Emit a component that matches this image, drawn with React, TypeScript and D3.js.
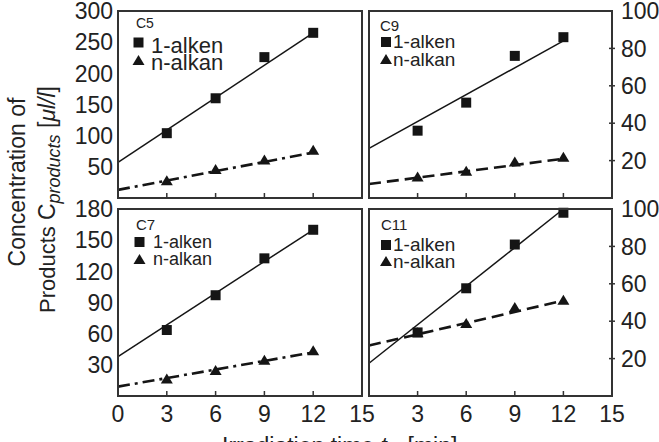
import React from 'react';
import * as d3 from 'd3';

// ---- data ----
const time = [3, 6, 9, 12];
const fitTime = [0, 12];

const c5Alken = [104, 160, 226, 265];
const c5Alkan = [27, 45, 60, 76];
const c5AlkenFit = [57, 265];
const c5AlkanFit = [13, 73];

const c9Alken = [36, 51, 76, 86];
const c9Alkan = [11, 14, 19, 21.5];
const c9AlkenFit = [26.5, 84];
const c9AlkanFit = [7.5, 21];

const c7Alken = [63.5, 97, 132.5, 160];
const c7Alkan = [16, 24, 34, 43];
const c7AlkenFit = [38, 160];
const c7AlkanFit = [9, 42];

const c11Alken = [34, 57.6, 81, 98];
const c11Alkan = [33.5, 38.5, 47, 51];
const c11AlkenFit = [17.5, 100];
const c11AlkanFit = [27, 51];

const xTicksLeft = [0, 3, 6, 9, 12, 15];
const xTicksRight = [3, 6, 9, 12, 15];
const xInnerTicks = [3, 6, 9, 12];
const yTicksC5 = [50, 100, 150, 200, 250, 300];
const yTicksC9 = [20, 40, 60, 80, 100];
const yTicksC7 = [30, 60, 90, 120, 150, 180];
const yTicksC11 = [20, 40, 60, 80, 100];

const seriesNames = ['1-alken', 'n-alkan'];

const W = 659;
const H = 442;
const TXT = '#222';
const FRAME = '#333';
const INK = '#151515';
const FONT = 'Liberation Sans, Arial, Helvetica, sans-serif';

type Panel = {
  name: string;
  x0: number; x1: number; y0: number; y1: number;
  yMax: number; yTicks: number[]; side: 'left' | 'right';
  alken: number[]; alkan: number[]; alkenFit: number[]; alkanFit: number[];
  dash: string; legSize: number; nameSize: number;
  leg: { nx: number; ny: number; sx: number; sy: number; tx: number; t1: number; ty: number; t2: number };
  xTicks: number[] | null;
};

const panels: Panel[] = [
  {
    name: 'C5', x0: 118, x1: 362, y0: 11, y1: 198, yMax: 300, yTicks: yTicksC5, side: 'left',
    alken: c5Alken, alkan: c5Alkan, alkenFit: c5AlkenFit, alkanFit: c5AlkanFit,
    dash: '12 5 3 5', legSize: 22, nameSize: 14,
    leg: { nx: 18, ny: 17, sx: 20.5, sy: 31.5, tx: 33, t1: 42, ty: 50, t2: 59 },
    xTicks: null,
  },
  {
    name: 'C9', x0: 369, x1: 612, y0: 11, y1: 198, yMax: 100, yTicks: yTicksC9, side: 'right',
    alken: c9Alken, alkan: c9Alkan, alkenFit: c9AlkenFit, alkanFit: c9AlkanFit,
    dash: '12 6', legSize: 19, nameSize: 15,
    leg: { nx: 11, ny: 20, sx: 17, sy: 31, tx: 24, t1: 37, ty: 49, t2: 55 },
    xTicks: null,
  },
  {
    name: 'C7', x0: 118, x1: 362, y0: 209, y1: 396, yMax: 180, yTicks: yTicksC7, side: 'left',
    alken: c7Alken, alkan: c7Alkan, alkenFit: c7AlkenFit, alkanFit: c7AlkanFit,
    dash: '12 5 3 5', legSize: 18, nameSize: 15,
    leg: { nx: 18, ny: 21, sx: 21.5, sy: 33, tx: 35, t1: 39, ty: 51, t2: 56 },
    xTicks: xTicksLeft,
  },
  {
    name: 'C11', x0: 369, x1: 612, y0: 209, y1: 396, yMax: 100, yTicks: yTicksC11, side: 'right',
    alken: c11Alken, alkan: c11Alkan, alkenFit: c11AlkenFit, alkanFit: c11AlkanFit,
    dash: '12 6', legSize: 19, nameSize: 15,
    leg: { nx: 12, ny: 21, sx: 17, sy: 36, tx: 24, t1: 42, ty: 53, t2: 59 },
    xTicks: xTicksRight,
  },
];

const sqPath = (s: number) => `M${-s / 2},${-s / 2}h${s}v${s}h${-s}Z`;
const triPath = (w: number, h: number) => `M0,${-h * 0.6}L${w / 2},${h * 0.4}L${-w / 2},${h * 0.4}Z`;

function PanelView({ p }: { p: Panel }) {
  const x = d3.scaleLinear().domain([0, 15]).range([p.x0, p.x1]);
  const y = d3.scaleLinear().domain([0, p.yMax]).range([p.y1, p.y0]);
  const line = d3.line<[number, number]>().x((d) => x(d[0])).y((d) => y(d[1]));
  const alkenFit = fitTime.map((t, i) => [t, p.alkenFit[i]] as [number, number]);
  const alkanFit = fitTime.map((t, i) => [t, p.alkanFit[i]] as [number, number]);
  const L = p.leg;
  return (
    <g>
      <path d={line(alkenFit) || ''} fill="none" stroke={INK} strokeWidth={1.5} />
      <path d={line(alkanFit) || ''} fill="none" stroke={INK} strokeWidth={2.6} strokeDasharray={p.dash} />
      {time.map((t, i) => (
        <path key={'a' + i} d={sqPath(10)} transform={`translate(${x(t)},${y(p.alken[i])})`} fill={INK} />
      ))}
      {time.map((t, i) => (
        <path key={'b' + i} d={triPath(12, 10)} transform={`translate(${x(t)},${y(p.alkan[i])})`} fill={INK} />
      ))}
      <rect x={p.x0} y={p.y0} width={p.x1 - p.x0} height={p.y1 - p.y0} fill="none" stroke={FRAME} strokeWidth={2} />
      {xInnerTicks.map((t) => (
        <line key={'xt' + t} x1={x(t)} x2={x(t)} y1={p.y1} y2={p.y1 - 5} stroke={FRAME} strokeWidth={1.5} />
      ))}
      {p.yTicks.map((v) =>
        p.side === 'left' ? (
          <text key={'yl' + v} x={p.x0 - 5} y={y(v)} dy="0.36em" textAnchor="end" fontSize={23} fill={TXT}>
            {v}
          </text>
        ) : (
          <g key={'yr' + v}>
            {v < p.yMax && (
              <line x1={p.x1 - 3} x2={p.x1 + 3} y1={y(v)} y2={y(v)} stroke={FRAME} strokeWidth={1.5} />
            )}
            <text x={p.x1 + 9} y={y(v)} dy="0.36em" textAnchor="start" fontSize={23} fill={TXT}>
              {v}
            </text>
          </g>
        )
      )}
      {p.xTicks &&
        p.xTicks.map((t) => (
          <text key={'xl' + t} x={x(t)} y={422} textAnchor="middle" fontSize={23} fill={TXT}>
            {t}
          </text>
        ))}
      <text x={p.x0 + L.nx} y={p.y0 + L.ny} fontSize={p.nameSize} fill={TXT}>
        {p.name}
      </text>
      <path d={sqPath(10)} transform={`translate(${p.x0 + L.sx},${p.y0 + L.sy})`} fill={INK} />
      <text x={p.x0 + L.tx} y={p.y0 + L.t1} fontSize={p.legSize} fill={TXT}>
        {seriesNames[0]}
      </text>
      <path d={triPath(12, 10)} transform={`translate(${p.x0 + L.sx},${p.y0 + L.ty})`} fill={INK} />
      <text x={p.x0 + L.tx} y={p.y0 + L.t2} fontSize={p.legSize} fill={TXT}>
        {seriesNames[1]}
      </text>
    </g>
  );
}

export default function App() {
  return (
    <svg
      width={W}
      height={H}
      viewBox={`0 0 ${W} ${H}`}
      style={{ position: 'absolute', left: 0, top: 0, background: '#fff' }}
      fontFamily={FONT}
    >
      <rect x={0} y={0} width={W} height={H} fill="#fff" />
      {panels.map((p) => (
        <PanelView key={p.name} p={p} />
      ))}
      <text transform="translate(25,182) rotate(-90)" textAnchor="middle" fontSize={23} fill={TXT}>
        Concentration of
      </text>
      <text transform="translate(55,313) rotate(-90)" textAnchor="start" fontSize={22} fill={TXT}>
        <tspan>Products </tspan>
        <tspan fontSize={23}>C</tspan>
        <tspan fontSize={18} fontStyle="italic" dy={5}>products</tspan>
        <tspan dy={-5} fontSize={23}> [</tspan>
        <tspan fontSize={23} fontStyle="italic">μl/l</tspan>
        <tspan fontSize={23}>]</tspan>
      </text>
      <text x={222} y={454} fontSize={23} fill={TXT}>
        <tspan>Irradiation time </tspan>
        <tspan fontStyle="italic">t</tspan>
        <tspan fontSize={16} fontStyle="italic" dy={5}>irr</tspan>
        <tspan dy={-5}> [min]</tspan>
      </text>
    </svg>
  );
}
